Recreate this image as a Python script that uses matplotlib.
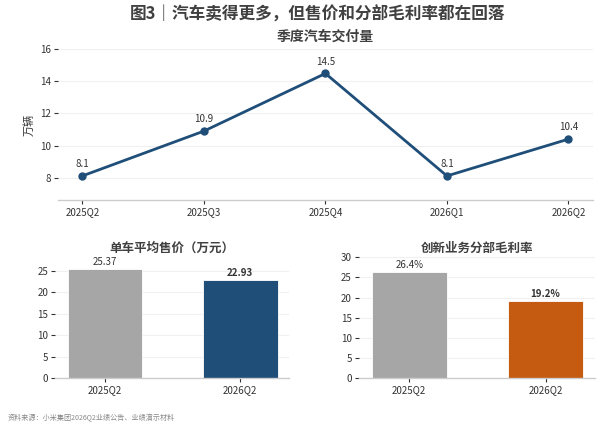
import matplotlib
matplotlib.use('Agg')
import matplotlib.pyplot as plt

plt.rcParams['font.family'] = ['Noto Sans CJK SC', 'DejaVu Sans']

# --- data ---
quarters = ['2025Q2', '2025Q3', '2025Q4', '2026Q1', '2026Q2']
deliveries = [8.1, 10.9, 14.5, 8.1, 10.4]

bar_labels = ['2025Q2', '2026Q2']
asp = [25.37, 22.93]
margin = [26.4, 19.2]

TEXT = '#333333'
GREY = '#a6a6a6'
BLUE = '#1f4e79'
ORANGE = '#c55a11'


def style_axes(ax):
    for side in ['top', 'right', 'left']:
        ax.spines[side].set_visible(False)
    ax.spines['bottom'].set_color('#cccccc')
    ax.spines['bottom'].set_linewidth(1.0)
    ax.tick_params(axis='both', labelsize=7, colors=TEXT, length=3, width=0.8, pad=2)
    ax.grid(True, axis='y', color='#f0f0f0', linewidth=0.8)
    ax.set_axisbelow(True)


fig = plt.figure(figsize=(6, 4.3), dpi=100)
fig.text(0.53, 0.966, '图3｜汽车卖得更多，但售价和分部毛利率都在回落',
         ha='center', va='center', fontsize=12, fontweight='bold', color='#404040')

# --- top: quarterly deliveries ---
ax1 = fig.add_axes([0.0967, 0.535, 0.8913, 0.35])
style_axes(ax1)
x = list(range(len(quarters)))
ax1.plot(x, deliveries, color=BLUE, linewidth=2, marker='o', markersize=5)
for xi, v in zip(x, deliveries):
    ax1.annotate(f'{v}', (xi, v), xytext=(0, 5), textcoords='offset points',
                 ha='center', va='bottom', fontsize=7, color=TEXT)
ax1.set_xticks(x)
ax1.set_xticklabels(quarters)
ax1.set_xlim(-0.2, 4.2)
ax1.set_ylim(6.6, 16.0)
ax1.set_yticks([8, 10, 12, 14, 16])
ax1.set_ylabel('万辆', fontsize=8, color=TEXT, labelpad=4)
ax1.set_title('季度汽车交付量', fontsize=10, fontweight='bold', color='#404040', pad=6)

# --- bottom left: average selling price ---
ax2 = fig.add_axes([0.0917, 0.121, 0.39, 0.286])
style_axes(ax2)
bars = ax2.bar([0, 1], asp, width=0.55, color=[GREY, BLUE], edgecolor='white', linewidth=0.6)
ax2.set_xticks([0, 1])
ax2.set_xticklabels(bar_labels)
ax2.set_xlim(-0.37, 1.36)
ax2.set_ylim(0, 28.7)
ax2.set_yticks([0, 5, 10, 15, 20, 25])
for i, (b, v) in enumerate(zip(bars, asp)):
    ax2.annotate(f'{v:.2f}', (b.get_x() + b.get_width() / 2, v), xytext=(0, 1.5),
                 textcoords='offset points', ha='center', va='bottom', fontsize=7,
                 color=TEXT, fontweight='bold' if i == 1 else 'normal')
ax2.set_title('单车平均售价（万元）', fontsize=9, fontweight='bold', color='#404040', pad=2)

# --- bottom right: gross margin ---
ax3 = fig.add_axes([0.598, 0.121, 0.393, 0.286])
style_axes(ax3)
bars = ax3.bar([0, 1], margin, width=0.55, color=[GREY, ORANGE], edgecolor='white', linewidth=0.6)
ax3.set_xticks([0, 1])
ax3.set_xticklabels(bar_labels)
ax3.set_xlim(-0.37, 1.36)
ax3.set_ylim(0, 30.6)
ax3.set_yticks([0, 5, 10, 15, 20, 25, 30])
for i, (b, v) in enumerate(zip(bars, margin)):
    ax3.annotate(f'{v:.1f}%', (b.get_x() + b.get_width() / 2, v), xytext=(0, 1.5),
                 textcoords='offset points', ha='center', va='bottom', fontsize=7,
                 color=TEXT, fontweight='bold' if i == 1 else 'normal')
ax3.set_title('创新业务分部毛利率', fontsize=9, fontweight='bold', color='#404040', pad=2)

fig.text(0.012, 0.028, '资料来源：小米集团2026Q2业绩公告、业绩演示材料',
         ha='left', va='center', fontsize=5.1, color='#888888')

fig.savefig('out.png', dpi=100)
